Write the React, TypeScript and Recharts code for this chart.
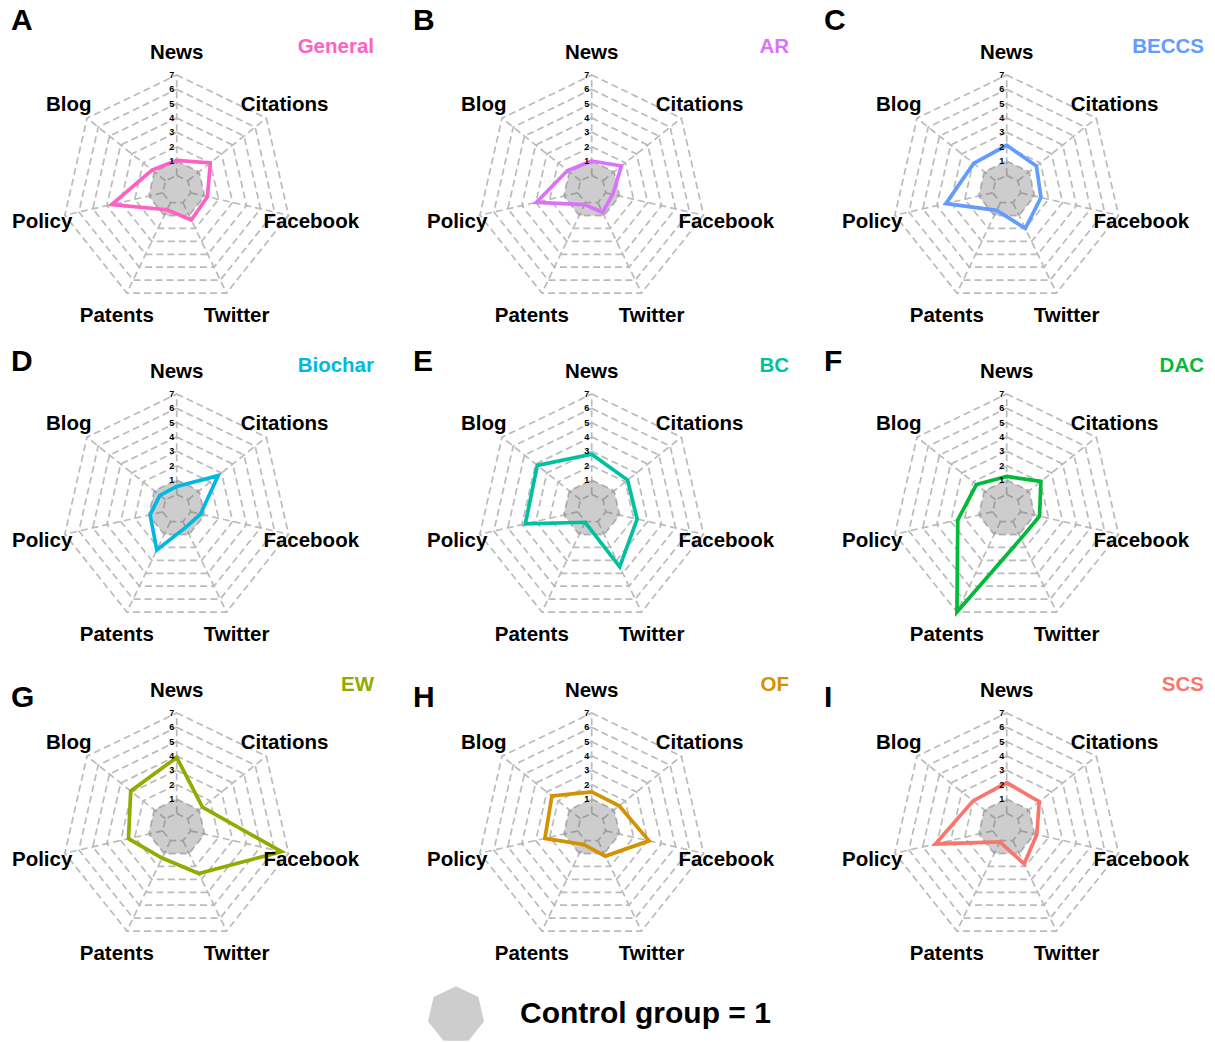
import React from 'react';
import { RadarChart, Radar, PolarGrid, PolarAngleAxis, PolarRadiusAxis } from 'recharts';

const categories = ['News', 'Citations', 'Facebook', 'Twitter', 'Patents', 'Policy', 'Blog'];
const radiusTicks = [0, 1, 2, 3, 4, 5, 6, 7];
const controlValues = [1, 1, 1, 1, 1, 1, 1];

const panelLetters = ['A', 'B', 'C', 'D', 'E', 'F', 'G', 'H', 'I'];
const panelNames = ['General', 'AR', 'BECCS', 'Biochar', 'BC', 'DAC', 'EW', 'OF', 'SCS'];
const panelColors = ['#FF61C3', '#DB72FB', '#619CFF', '#00B9E3', '#00C19F', '#00BA38', '#93AA00', '#D39200', '#F8766D'];

// order: News, Citations, Facebook, Twitter, Patents, Policy, Blog
const generalValues = [1.05, 2.0, 1.2, 1.35, 0.55, 3.65, 1.2];
const arValues = [1.0, 1.65, 0.5, 0.75, 0.15, 2.95, 1.15];
const beccsValues = [2.1, 1.65, 1.45, 2.0, 0.6, 3.35, 1.95];
const biocharValues = [0.55, 2.7, 0.7, 0.45, 2.2, 0.9, 0.5];
const bcValues = [2.8, 2.2, 2.25, 3.5, 0.05, 3.75, 3.85];
const dacValues = [1.25, 2.05, 1.35, 1.3, 7.0, 2.5, 1.7];
const ewValues = [3.9, 1.3, 6.5, 2.55, 1.35, 2.45, 3.1];
const ofValues = [1.5, 1.45, 3.1, 1.2, 0.3, 2.35, 2.55];
const scsValues = [2.15, 1.9, 1.15, 1.8, 0.1, 4.1, 2.0];

const panelValues = [generalValues, arValues, beccsValues, biocharValues, bcValues, dacValues, ewValues, ofValues, scsValues];

const FONT = '"Liberation Sans", Arial, Helvetica, sans-serif';
const BOX_W = 415;
const BOX_H = 319;
const CHART_H = 345;
const CX = 176.7;
const CY = 189.7;
const OUTER = 114.7;
const INNER = OUTER / 8;
const letterLeft = [11, 413, 824];
const letterCapY = [20, 361, 697];

function AngleTick(props: any) {
  const { x, y, payload } = props;
  return (
    <text x={x} y={y} textAnchor="middle" dominantBaseline="central" fontFamily={FONT} fontWeight="bold" fontSize={20.5} fill="#000">
      {payload.value}
    </text>
  );
}

function RadiusTick(props: any) {
  const { x, y, payload } = props;
  if (payload.value === 0) return <g />;
  return (
    <text x={x - 2.5} y={y} textAnchor="end" dominantBaseline="central" fontFamily={FONT} fontWeight="bold" fontSize={9} fill="#000">
      {payload.value}
    </text>
  );
}

function Panel({ index }: { index: number }) {
  const row = Math.floor(index / 3);
  const col = index % 3;
  const vals = panelValues[index];
  const data = categories.map((c, i) => ({ category: c, control: controlValues[i], value: vals[i] }));
  const left = col * BOX_W;
  const top = row * BOX_H;
  return (
    <>
      <div style={{ position: 'absolute', left, top, width: BOX_W, height: CHART_H }}>
        <RadarChart
          width={BOX_W}
          height={CHART_H}
          data={data}
          cx={CX}
          cy={CY}
          outerRadius={OUTER}
          innerRadius={INNER}
          margin={{ top: 0, right: 0, bottom: 0, left: 0 }}
        >
          <PolarGrid gridType="polygon" stroke="#BBBBBB" strokeWidth={1.7} strokeDasharray="7 4" />
          <PolarAngleAxis dataKey="category" tick={AngleTick} tickLine={false} axisLine={false} tickSize={23.3} />
          <PolarRadiusAxis
            angle={90}
            type="number"
            domain={[0, 7]}
            ticks={radiusTicks}
            tickCount={8}
            allowDataOverflow
            tick={RadiusTick}
            tickLine={false}
            axisLine={false}
          />
          <Radar dataKey="control" fill="#666666" fillOpacity={0.33} stroke="none" isAnimationActive={false} />
          <Radar
            dataKey="value"
            stroke={panelColors[index]}
            strokeWidth={3.7}
            fill="none"
            fillOpacity={0}
            dot={false}
            isAnimationActive={false}
          />
        </RadarChart>
      </div>
      <div
        style={{
          position: 'absolute',
          left: letterLeft[col],
          top: letterCapY[row] - 15,
          fontSize: 30,
          lineHeight: '30px',
          fontWeight: 'bold',
          fontFamily: FONT,
          color: '#000',
        }}
      >
        {panelLetters[index]}
      </div>
      <div
        style={{
          position: 'absolute',
          left: left + CX + 197.3 - 200,
          width: 200,
          textAlign: 'right',
          top: top + CY - 143.7 - 10.25,
          fontSize: 20.5,
          lineHeight: '20.5px',
          fontWeight: 'bold',
          fontFamily: FONT,
          color: panelColors[index],
        }}
      >
        {panelNames[index]}
      </div>
    </>
  );
}

function LegendIcon() {
  const data = categories.map((c, i) => ({ category: c, control: controlValues[i] }));
  return (
    <div style={{ position: 'absolute', left: 426.3, top: 984.7, width: 60, height: 60 }}>
      <RadarChart width={60} height={60} data={data} cx={30} cy={30} outerRadius={28.7} innerRadius={0} margin={{ top: 0, right: 0, bottom: 0, left: 0 }}>
        <PolarAngleAxis dataKey="category" tick={false} tickLine={false} axisLine={false} />
        <PolarRadiusAxis type="number" domain={[0, 1]} tick={false} tickLine={false} axisLine={false} />
        <Radar dataKey="control" fill="#666666" fillOpacity={0.33} stroke="none" isAnimationActive={false} />
      </RadarChart>
    </div>
  );
}

export default function App() {
  return (
    <div style={{ position: 'absolute', left: 0, top: 0, width: 1215, height: 1043, background: '#fff', overflow: 'hidden' }}>
      {panelValues.map((_, i) => (
        <Panel key={i} index={i} />
      ))}
      <LegendIcon />
      <div
        style={{
          position: 'absolute',
          left: 520,
          top: 1013 - 15,
          fontSize: 30,
          lineHeight: '30px',
          fontWeight: 'bold',
          fontFamily: FONT,
          color: '#000',
          whiteSpace: 'nowrap',
        }}
      >
        Control group = 1
      </div>
    </div>
  );
}
